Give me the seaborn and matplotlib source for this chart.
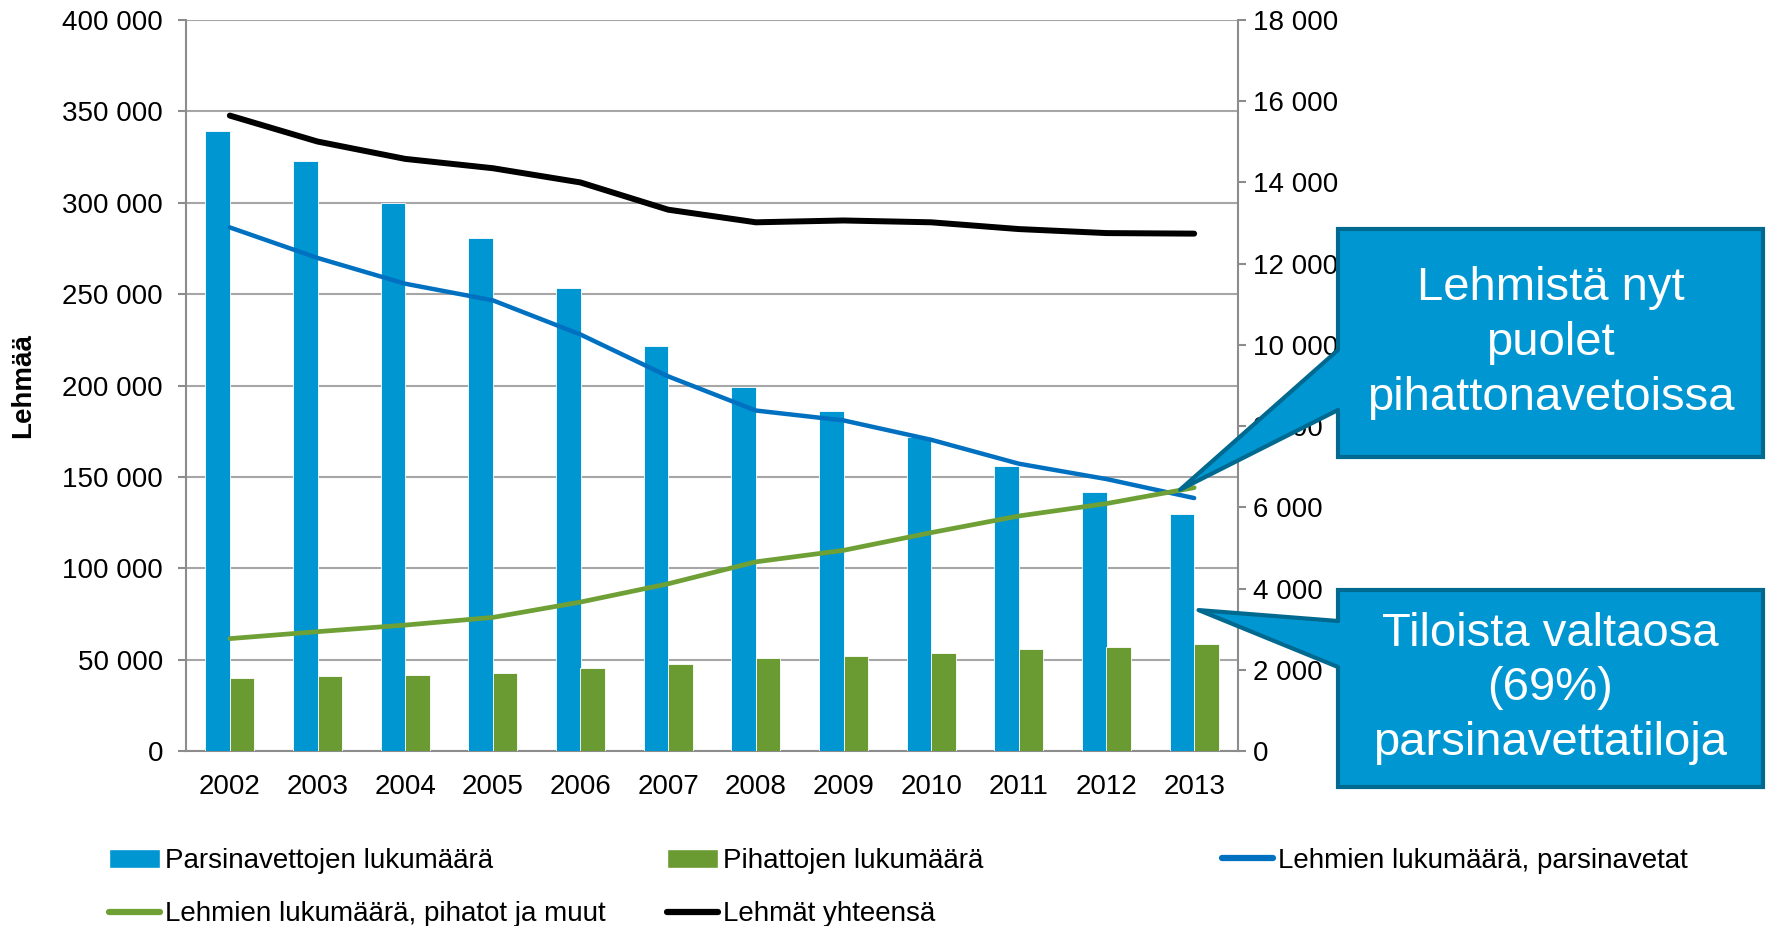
import numpy as np
import pandas as pd
import matplotlib
matplotlib.use('Agg')
import matplotlib.pyplot as plt
from matplotlib.patches import Patch, Polygon, Rectangle
from matplotlib.lines import Line2D
from matplotlib.ticker import FuncFormatter
import seaborn as sns

sns.set_style('white')
plt.rcParams['font.family'] = ['Liberation Sans', 'DejaVu Sans']
plt.rcParams['text.color'] = 'black'

# data
years = ['2002', '2003', '2004', '2005', '2006', '2007',
         '2008', '2009', '2010', '2011', '2012', '2013']
# farm counts (right axis)
parsi_farms = [15260, 14520, 13490, 12620, 11410, 9970, 8960, 8360, 7720, 7010, 6380, 5840]
pihatto_farms = [1790, 1840, 1880, 1920, 2040, 2140, 2280, 2340, 2420, 2500, 2570, 2640]
# cow counts (left axis)
cows_parsi = [286500, 269800, 255700, 246600, 227900, 205000,
              186300, 180900, 170300, 157200, 148800, 138400]
cows_pihatto = [61500, 65300, 68900, 73100, 81500, 91500,
                103500, 109800, 119500, 128600, 135400, 144100]
cows_total = [347700, 333500, 324000, 318900, 311100, 296200,
              289300, 290300, 289300, 285600, 283400, 283100]

bar_names = ['Parsinavettojen lukumäärä', 'Pihattojen lukumäärä']
line_names = ['Lehmien lukumäärä, parsinavetat',
              'Lehmien lukumäärä, pihatot ja muut', 'Lehmät yhteensä']

bar_blue = '#0096D2'
bar_green = '#6A9A32'
line_blue = '#0070C0'
line_green = '#6FA036'
gray = '#8C8C8C'
grid_gray = '#A6A6A6'
box_edge = '#00698F'

W, H = 1770, 926
fig = plt.figure(figsize=(W / 100, H / 100), dpi=100)
ax = fig.add_subplot(111)
fig.subplots_adjust(left=186 / W, right=1238 / W, top=1 - 20 / H, bottom=1 - 751 / H)
axb = ax.twinx()
axl = ax.twinx()

bars = pd.DataFrame({
    'year': years * 2,
    'count': parsi_farms + pihatto_farms,
    'type': [bar_names[0]] * len(years) + [bar_names[1]] * len(years),
})
sns.barplot(data=bars, x='year', y='count', hue='type', palette=[bar_blue, bar_green],
            width=0.56, saturation=1, errorbar=None, legend=False, ax=axb, linewidth=0.6)

pos = np.arange(len(years))
sns.lineplot(x=pos, y=cows_parsi, color=line_blue, lw=3.2, ax=axl, solid_capstyle='round')
sns.lineplot(x=pos, y=cows_pihatto, color=line_green, lw=3.4, ax=axl, solid_capstyle='round')
sns.lineplot(x=pos, y=cows_total, color='black', lw=4.3, ax=axl, solid_capstyle='round')

fmt = FuncFormatter(lambda v, p: f'{int(v):,}'.replace(',', ' '))

ax.set_ylim(0, 400000)
axl.set_ylim(0, 400000)
axb.set_ylim(0, 18000)
ax.set_xlim(-0.5, len(years) - 0.5)

ax.set_yticks(np.arange(0, 400001, 50000))
ax.yaxis.set_major_formatter(fmt)
axb.set_yticks(np.arange(0, 18001, 2000))
axb.yaxis.set_major_formatter(fmt)
axl.yaxis.set_visible(False)

ax.set_xticks(pos)
ax.set_xticklabels(years)
ax.set_xticks(np.arange(-0.5, len(years), 1), minor=True)
ax.tick_params(axis='x', which='major', length=0, labelsize=20, pad=16.5, labelcolor='black')
ax.tick_params(axis='x', which='minor', length=6, width=1.5, color=gray, direction='out')
ax.tick_params(axis='y', length=6, width=1.5, color=gray, labelsize=20, pad=10.5,
               direction='out', labelcolor='black')
axb.tick_params(axis='y', length=6, width=1.5, color=gray, labelsize=20, pad=4.5,
                direction='out', labelcolor='black')

ax.yaxis.grid(True, color=grid_gray, lw=1.5)
ax.xaxis.grid(False)
axb.grid(False)
axl.grid(False)

for a in (axb, axl):
    for s in a.spines.values():
        s.set_visible(False)
    a.set_xlabel('')
    a.set_ylabel('')
ax.spines['top'].set_visible(False)
for s in ('left', 'right', 'bottom'):
    ax.spines[s].set_color(gray)
    ax.spines[s].set_linewidth(1.5)

ax.set_xlabel('')
ax.set_ylabel('Lehmää', fontsize=20, fontweight='bold', color='black')
ax.yaxis.set_label_coords(-0.1425, 0.5)

# legend, laid out in three columns like the original
h_bars = [Patch(fc=bar_blue), Patch(fc=bar_green)]
h_lines = [Line2D([], [], color=line_blue, lw=4.5),
           Line2D([], [], color=line_green, lw=4.5),
           Line2D([], [], color='black', lw=4.5)]
leg_kw = dict(loc='upper left', frameon=False, fontsize=20, handlelength=1.85,
              handletextpad=0.15, borderpad=0, borderaxespad=0, labelspacing=0.98,
              labelcolor='black')
leg_top = 1 - 848 / H
fig.legend([h_bars[0], h_lines[1]], [bar_names[0], line_names[1]],
           bbox_to_anchor=(109 / W, leg_top), **leg_kw)
fig.legend([h_bars[1], h_lines[2]], [bar_names[1], line_names[2]],
           bbox_to_anchor=(667 / W, leg_top), **leg_kw)
fig.legend([h_lines[0]], [line_names[0]],
           bbox_to_anchor=(1222 / W, leg_top), **leg_kw)


def callout(box, base, tip_ax, tip_xy, text):
    x0, y0, x1, y1 = box
    tip = fig.transFigure.inverted().transform(tip_ax.transData.transform(tip_xy))
    fx0, fx1 = x0 / W, x1 / W
    fy0, fy1 = 1 - y1 / H, 1 - y0 / H
    fig.add_artist(Rectangle((fx0, fy0), fx1 - fx0, fy1 - fy0, transform=fig.transFigure,
                             fc=bar_blue, ec=box_edge, lw=3, zorder=5))
    b1, b2 = 1 - base[0] / H, 1 - base[1] / H
    # wedge fill reaches a little into the box so the box outline is hidden there
    fig.add_artist(Polygon([(fx0 + 0.004, b1), (fx0, b1), tuple(tip), (fx0, b2), (fx0 + 0.004, b2)],
                           closed=True, transform=fig.transFigure,
                           fc=bar_blue, ec='none', zorder=6))
    fig.add_artist(Line2D([fx0, tip[0], fx0], [b1, tip[1], b2], transform=fig.transFigure,
                          color=box_edge, lw=3, zorder=7))
    fig.text((fx0 + fx1) / 2, (fy0 + fy1) / 2, text, ha='center', va='center',
             color='white', fontsize=34, linespacing=1.32, zorder=8)


callout((1338, 229, 1763, 457), (350, 410), axl, (10.84, 143000),
        'Lehmistä nyt\npuolet\npihattonavetoissa')
callout((1338, 590, 1763, 787), (621, 667), axb, (11.05, 3470),
        'Tiloista valtaosa\n(69%)\nparsinavettatiloja')

fig.savefig('out.png', dpi=100)
